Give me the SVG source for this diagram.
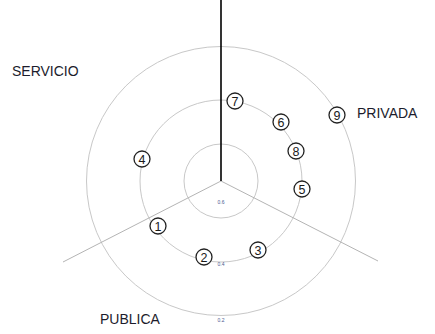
<svg xmlns="http://www.w3.org/2000/svg" width="435" height="334" viewBox="0 0 435 334">
<style>
.ring{fill:none;stroke:#c8c8c8;stroke-width:1}
.axis{stroke:#b4b4b4;stroke-width:1}
.node circle{fill:#fff;stroke:#222;stroke-width:1.3}
.node text{font-family:"Liberation Sans",Arial,sans-serif;font-size:12.5px;fill:#1a1a1a;text-anchor:middle}
.lbl{font-family:"Liberation Sans",Arial,sans-serif;font-size:14px;fill:#1c1c2c}
.tick{font-family:"Liberation Sans",Arial,sans-serif;font-size:5px;fill:#4a5a90;text-anchor:middle}
</style>
<rect width="435" height="334" fill="#fff"/>
<g id="rings">
<circle class="ring" cx="221" cy="181" r="37"/>
<circle class="ring" cx="221" cy="181" r="81"/>
<circle class="ring" cx="221" cy="181" r="134.5"/>
</g>
<g id="connectors">
<line class="axis" x1="221" y1="181" x2="63" y2="262"/>
<line class="axis" x1="221" y1="181" x2="378" y2="261"/>
<line x1="221" y1="0" x2="221" y2="181" stroke="#000" stroke-width="1.6"/>
</g>
<g id="ticks">
<text class="tick" x="221" y="204">0.6</text>
<text class="tick" x="221" y="266">0.4</text>
<text class="tick" x="221" y="322">0.2</text>
</g>
<g id="labels">
<text class="lbl" x="12" y="76">SERVICIO</text>
<text class="lbl" x="357" y="118">PRIVADA</text>
<text class="lbl" x="100" y="324">PUBLICA</text>
</g>
<g id="n1" class="node"><circle cx="158" cy="226" r="8"/><text x="158" y="230.5">1</text></g>
<g id="n2" class="node"><circle cx="204" cy="257" r="8"/><text x="204" y="261.5">2</text></g>
<g id="n3" class="node"><circle cx="258" cy="250" r="8"/><text x="258" y="254.5">3</text></g>
<g id="n4" class="node"><circle cx="142" cy="159" r="8"/><text x="142" y="163.5">4</text></g>
<g id="n5" class="node"><circle cx="302" cy="189" r="8"/><text x="302" y="193.5">5</text></g>
<g id="n6" class="node"><circle cx="281" cy="122" r="8"/><text x="281" y="126.5">6</text></g>
<g id="n7" class="node"><circle cx="235" cy="101" r="8"/><text x="235" y="105.5">7</text></g>
<g id="n8" class="node"><circle cx="296" cy="151" r="8"/><text x="296" y="155.5">8</text></g>
<g id="n9" class="node"><circle cx="337" cy="115" r="8"/><text x="337" y="119.5">9</text></g>
</svg>
